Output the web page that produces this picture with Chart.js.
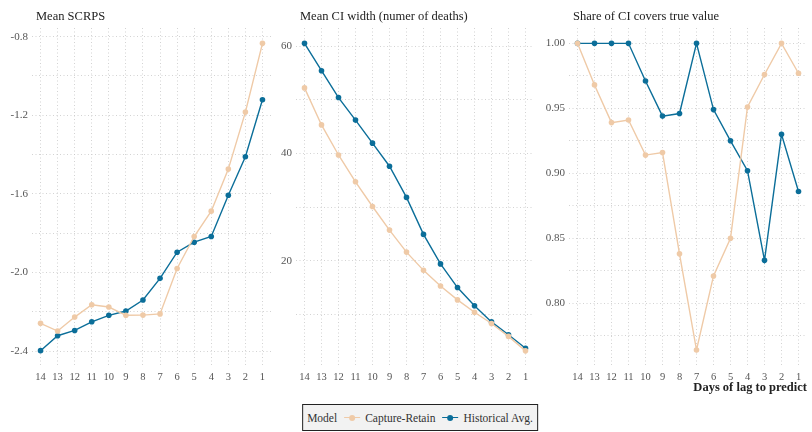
<!DOCTYPE html>
<html>
<head>
<meta charset="utf-8">
<script src="https://cdn.jsdelivr.net/npm/chart.js@4"></script>
<style>
  body { margin: 0; background: #fff; font-family: "Liberation Serif", serif; }
  #wrap { position: relative; width: 812px; height: 432px; }
  .panel { position: absolute; top: 0; height: 395px; }
  #legend {
    position: absolute; left: 420px; top: 404px; height: 25px;
    transform: translateX(-50%); padding: 0 4px; white-space: nowrap;
    border: 1px solid #222; background: #f2f2f2;
    display: flex; align-items: center; justify-content: center;
    font-size: 11.5px; color: #333;
  }
  #legend .item { display: flex; align-items: center; margin-left: 7px; }
  #legend .key { position: relative; width: 16px; height: 10px; margin-right: 5px; }
  #legend .key .ln { position: absolute; left: 0; right: 0; top: 4px; height: 1.5px; }
  #legend .key .dt { position: absolute; left: 5px; top: 2px; width: 6px; height: 6px; border-radius: 50%; }
</style>
</head>
<body>
<div id="wrap">
  <div class="panel" style="left:0;width:275px"><canvas id="c1"></canvas></div>
  <div class="panel" style="left:275px;width:263px"><canvas id="c2"></canvas></div>
  <div class="panel" style="left:540px;width:272px"><canvas id="c3"></canvas></div>
  <div id="legend"></div>
</div>
<script>
document.addEventListener('DOMContentLoaded', function () {

    // days of lag, shown from 14 down to 1
    var days = ['14', '13', '12', '11', '10', '9', '8', '7', '6', '5', '4', '3', '2', '1'];

    var models = ['Capture-Retain', 'Historical Avg.'];
    var colors = ['#efcaa7', '#0b6e99'];

    // Mean SCRPS
    var scrpsCapture = [-2.259, -2.298, -2.227, -2.164, -2.176, -2.218, -2.217, -2.211, -1.980, -1.817, -1.688, -1.474, -1.184, -0.834];
    var scrpsHistorical = [-2.398, -2.322, -2.295, -2.251, -2.218, -2.196, -2.140, -2.030, -1.897, -1.846, -1.817, -1.607, -1.411, -1.121];

    // Mean CI width
    var widthCapture = [52.2, 45.3, 39.7, 34.7, 30.1, 25.7, 21.6, 18.2, 15.3, 12.7, 10.4, 8.3, 5.9, 3.2];
    var widthHistorical = [60.5, 55.4, 50.4, 46.2, 41.9, 37.6, 31.8, 24.9, 19.4, 15.0, 11.6, 8.6, 6.2, 3.7];

    // Share of CI covering the true value
    var coverCapture = [1.000, 0.968, 0.939, 0.941, 0.914, 0.916, 0.838, 0.764, 0.821, 0.850, 0.951, 0.976, 1.000, 0.977];
    var coverHistorical = [1.000, 1.000, 1.000, 1.000, 0.971, 0.944, 0.946, 1.000, 0.949, 0.925, 0.902, 0.833, 0.930, 0.886];

    var gridStyle = {
        color: '#c8c8c8',
        lineWidth: 0.8,
        drawTicks: false
    };
    var noBorder = { display: false, dash: [1, 2.5] };

    // panel title drawn above the plot area, left aligned with it
    var panelTitle = {
        id: 'panelTitle',
        afterDraw: function (chart) {
            var c = chart.ctx;
            c.save();
            c.font = '12.5px "Liberation Serif"';
            c.fillStyle = '#222';
            c.textBaseline = 'middle';
            c.fillText(chart.options.plugins.panelTitle.text, chart.chartArea.left + 4, 17);
            c.restore();
        }
    };

    function makeChart(id, capture, historical, opts) {
        var ctx = document.getElementById(id).getContext('2d');
        var series = [capture, historical];
        return new Chart(ctx, {
            type: 'line',
            data: {
                labels: days,
                datasets: models.map(function (m, i) {
                    return {
                        label: m,
                        data: series[i],
                        borderColor: colors[i],
                        backgroundColor: colors[i],
                        borderWidth: 1.4,
                        pointRadius: 2.8,
                        pointBorderWidth: 0,
                        tension: 0
                    };
                })
            },
            options: {
                responsive: true,
                maintainAspectRatio: false,
                animation: false,
                layout: { padding: { top: 28, right: opts.right, left: 0, bottom: 0 } },
                plugins: {
                    legend: { display: false },
                    tooltip: { enabled: false },
                    panelTitle: { text: opts.title }
                },
                scales: {
                    x: {
                        offset: true,
                        border: noBorder,
                        grid: Object.assign({ offset: false }, gridStyle),
                        ticks: {
                            color: '#555',
                            font: { family: 'Liberation Serif', size: 10.5 },
                            padding: 5,
                            maxRotation: 0,
                            autoSkip: false
                        },
                        title: {
                            display: !!opts.xTitle,
                            text: opts.xTitle || '',
                            align: 'end',
                            color: '#222',
                            font: { family: 'Liberation Serif', size: 12.5, weight: 'bold' },
                            padding: { top: 0, bottom: 0 }
                        },
                        afterFit: function (scale) { scale.height = 29; }
                    },
                    y: {
                        min: opts.min,
                        max: opts.max,
                        border: noBorder,
                        grid: gridStyle,
                        ticks: {
                            stepSize: opts.step,
                            includeBounds: false,
                            color: '#555',
                            padding: 4,
                            font: { family: 'Liberation Serif', size: 11 },
                            callback: opts.label
                        },
                        afterFit: function (scale) { scale.width = opts.yWidth; }
                    }
                }
            },
            plugins: [panelTitle]
        });
    }

    makeChart('c1', scrpsCapture, scrpsHistorical, {
        title: 'Mean SCRPS',
        min: -2.476, max: -0.756, step: 0.2, yWidth: 32, right: 3,
        label: function (v) {
            return Math.round(v * 10) % 4 === 0 ? v.toFixed(1) : '';
        }
    });

    makeChart('c2', widthCapture, widthHistorical, {
        title: 'Mean CI width (numer of deaths)',
        min: 0.38, max: 63.36, step: 10, yWidth: 21, right: 1,
        label: function (v) {
            return Math.round(v) % 20 === 0 ? String(Math.round(v)) : '';
        }
    });

    makeChart('c3', coverCapture, coverHistorical, {
        title: 'Share of CI covers true value',
        min: 0.7517, max: 1.0118, step: 0.025, yWidth: 29, right: 5,
        xTitle: 'Days of lag to predict',
        label: function (v) {
            return Math.round(v * 1000) % 50 === 0 ? v.toFixed(2) : '';
        }
    });

    // shared legend below the panels
    var legend = document.getElementById('legend');
    var html = '<span>Model</span>';
    models.forEach(function (m, i) {
        html += '<span class="item"><span class="key">' +
            '<span class="ln" style="background:' + colors[i] + '"></span>' +
            '<span class="dt" style="background:' + colors[i] + '"></span>' +
            '</span>' + m + '</span>';
    });
    legend.innerHTML = html;
});
</script>
</body>
</html>
